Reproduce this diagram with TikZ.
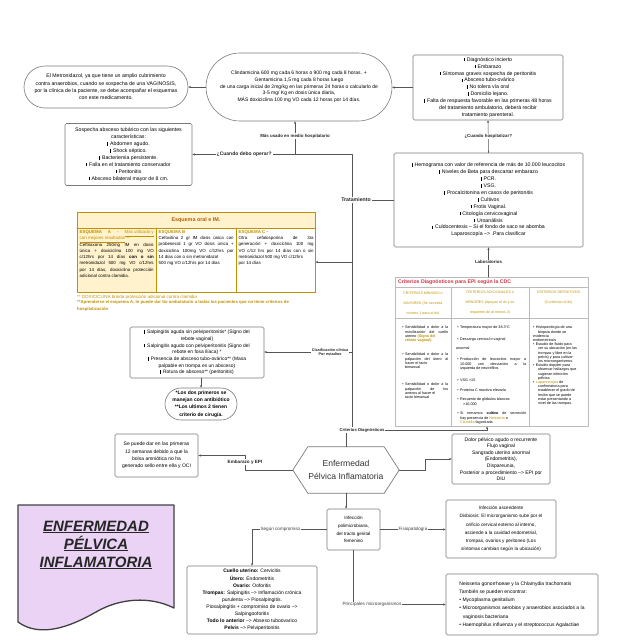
\documentclass[tikz,border=0pt]{standalone}
\usepackage{fontspec}
\setmainfont{Liberation Sans}
\usetikzlibrary{arrows.meta,positioning,shapes.misc,calc}
\definecolor{boxgray}{HTML}{7A7A7A}
\definecolor{linegray}{HTML}{555555}
\definecolor{gold}{HTML}{BF9000}
\definecolor{goldfill}{HTML}{FFF2CC}
\definecolor{cdcred}{HTML}{CC3344}
\definecolor{esqorange}{HTML}{B45F06}
\definecolor{lilac}{HTML}{EAD3F5}
\definecolor{tabgray}{HTML}{BBBBBB}
\newcommand{\barmark}{\rule[-0.2pt]{1.1pt}{3.6pt}\hspace{1.8pt}}
\newcommand{\gld}[1]{\textcolor{gold}{#1}}
\tikzset{
  every picture/.append style={line cap=round,line join=round},
  epi box/.style={draw=boxgray,line width=0.6pt,rounded corners=1.5pt,fill=white,align=center,inner sep=1pt,font=\fontsize{5.2}{6.9}\selectfont},
  epi pill/.style={draw=boxgray,line width=0.6pt,rounded rectangle,fill=white,align=center,inner sep=1pt},
  epi label/.style={font=\fontsize{4.4}{5.2}\selectfont\bfseries,fill=white,inner sep=0.8pt,align=center,text=black!85},
  epi soft/.style={font=\fontsize{4.6}{5.2}\selectfont,fill=white,inner sep=0.8pt,text=black!75},
  epi link/.style={draw=linegray,line width=0.55pt},
  epi arrow/.style={epi link,-{Stealth[length=2.6pt,width=2.2pt]}},
  esq cell/.style={inner sep=0pt,anchor=north west,align=justify,font=\fontsize{4.4}{6.3}\selectfont},
  crit cell/.style={inner sep=0pt,anchor=north west,align=justify,font=\fontsize{3.7}{4.2}\selectfont},
  crit head/.style={inner sep=0pt,anchor=north,align=center,text=gold,font=\fontsize{3.6}{10}\selectfont}
}
\begin{document}
\begin{tikzpicture}[x=1pt,y=-1pt]
\useasboundingbox (0,0) rectangle (640,640);

% fila superior
\node[epi pill,minimum width=166pt,minimum height=42pt,font=\fontsize{5.2}{7.4}\selectfont] (metro) at (106,87)
  {El Metronidazol, ya que tiene un amplio cubrimiento\\contra anaerobios, cuando se sospecha de una VAGINOSIS,\\por la clínica de la paciente, se debe acompañar el esquemas\\con este medicamento.};
\node[epi pill,minimum width=188pt,minimum height=68pt,font=\fontsize{5}{6.7}\selectfont] (clinda) at (299,87)
  {Clindamicina 600 mg cada 6 horas o 900 mg cada 8 horas. +\\Gentamicina 1,5 mg cada 8 horas luego\\de una carga inicial de 2mg/kg en las primeras 24 horas o calcularlo de\\3-5 mg/ Kg en dosis única diaria,\\MÁS doxiciclina 100 mg VO cada 12 horas por 14 días.};
\node[epi box,minimum width=150pt,minimum height=65pt] (hospit) at (488,87.5)
  {\barmark Diagnóstico incierto\\\barmark Embarazo\\\barmark Síntomas graves sospecha de peritonitis\\\barmark Absceso tubo-ovárico\\\barmark No tolera vía oral\\\barmark Domicilio lejano.\\\barmark Falta de respuesta favorable en las primeras 48 horas\\del tratamiento ambulatorio, deberá recibir\\tratamiento parenteral.};
\node[epi box,minimum width=127pt,minimum height=62pt] (absceso) at (128.5,154.5)
  {Sospecha absceso tubárico con las siguientes\\características:\\\barmark Abdomen agudo.\\\barmark Shock séptico.\\\barmark Bacteriemia persistente.\\\barmark Falla en el tratamiento conservador\\\barmark Peritonitis\\\barmark Absceso bilateral mayor de 8 cm.};
\node[epi box,minimum width=189pt,minimum height=94pt] (hemo) at (488.5,200)
  {\barmark Hemograma con valor de referencia de más de 10.000 leucocitos\\\barmark Niveles de Beta para descartar embarazo\\\barmark PCR.\\\barmark VSG.\\\barmark Procalcitonina en casos de peritonitis\\\barmark Cultivos\\\barmark Frotis Vaginal.\\\barmark Citología cervicovaginal\\\barmark Uroanálisis\\\barmark Culdocentesis -- Si el fondo de saco se abomba\\Laparoscopía --> .Para clasificar};

% tabla de esquemas
\fill[goldfill] (77,212) rectangle (315,228);
\fill[goldfill] (77,228) rectangle (156,292);
\node[draw=gold,line width=0.6pt,minimum width=238pt,minimum height=80pt,inner sep=0pt,anchor=north west] (esq) at (77,212) {};
\draw[gold,line width=0.6pt] (77,228) -- (315,228) (156,228) -- (156,292) (236,228) -- (236,292);
\node[font=\fontsize{5.4}{6}\selectfont\bfseries,text=esqorange] (esqTitle) at (196,220) {Esquema oral e IM.};
\node[esq cell,text width=74pt] (esqA) at (79.5,230)
  {\textbf{\gld{ESQUEMA A -}} \gld{\underline{Más utilizado y}}\linebreak \gld{\underline{con mejores resultados}} \textbf{\gld{**}}\newline Ceftriaxona 250mg IM en dosis\linebreak única + doxiciclina 100 mg VO\linebreak c/12hrs por 14 días \textbf{con o sin}\linebreak metronidazol 500 mg VO c/12hrs\linebreak por 14 días, doxiciclina protección\linebreak adicional contra clamidia.};
\node[esq cell,text width=75pt] (esqB) at (158.5,230)
  {\textbf{\gld{ESQUEMA B}}\newline Cefoxitina 2 gr IM dosis única con\linebreak probenecid 1 gr VO dosis única +\linebreak doxiciclina 100mg VO c/12hrs por\linebreak 14 días con o sin metronidazol\newline 500 mg VO c/12hrs por 14 días};
\node[esq cell,text width=75pt] (esqC) at (238.5,230)
  {\textbf{\gld{ESQUEMA C}} -\newline Otra cefalosporina de 3ra\linebreak generación + doxiciclina 100 mg\linebreak VO c/12 hrs por 14 días con o sin\linebreak metronidazol 500 mg VO c/12hrs\newline por 14 días};
\node[anchor=west,inner sep=0pt,text=gold,font=\fontsize{4.5}{5}\selectfont] (nota1) at (77,297)
  {** DOXICICLINA brinda protección adicional contra clamidia};
\node[anchor=north west,inner sep=0pt,text=gold,align=left,font=\fontsize{4.3}{6.6}\selectfont\bfseries] (nota2) at (77,300.5)
  {**Aprenderse el esquema A, le puede dar tto ambulatorio a todas las pacientes que no tiene criterios de\\hospitalización};

% tabla de criterios
\node[draw=tabgray,line width=0.5pt,minimum width=193pt,minimum height=149pt,inner sep=0pt,anchor=north west] (crit) at (395,277) {};
\draw[tabgray,line width=0.5pt] (395,287) -- (588,287) (395,318) -- (588,318) (451,287) -- (451,426) (529,287) -- (529,426);
\node[anchor=west,inner sep=0pt,text=cdcred,font=\fontsize{5.2}{6}\selectfont\bfseries] (critTitle) at (398,282) {Criterios Diagnósticos para EPI según la CDC};
\node[crit head] (headA) at (423,291) {CRITERIOS MÍNIMOS o\\MAYORES (Se necesita\\mínimo 1 para el dx)};
\node[crit head] (headB) at (490,291) {CRITERIOS ADICIONALES o\\MENORES (Apoyan al dx y se\\requieren de al menos 3)};
\node[crit head] (headC) at (558.5,291) {CRITERIOS DEFINITIVOS\\(Confirman el dx)};
\node[crit cell,text width=43pt] (mayA) at (405,326)
  {\llap{•\hspace{1.5pt}}Sensibilidad o dolor a la\linebreak movilización del cuello\linebreak uterino \textbf{\gld{(Signo del}}\newline\textbf{\gld{rebote vaginal)}}};
\node[crit cell,text width=43pt] (mayB) at (405,353)
  {\llap{•\hspace{1.5pt}}Sensibilidad o dolor a la\linebreak palpación del útero al\linebreak hacer el tacto\newline bimanual};
\node[crit cell,text width=43pt] (mayC) at (405,383)
  {\llap{•\hspace{1.5pt}}Sensibilidad o dolor a la\linebreak palpación de los\linebreak anexos al hacer el\newline tacto bimanual};
\node[crit cell,text width=66pt] (menA) at (460,326) {\llap{•\hspace{1.5pt}}Temperatura mayor de 38.3°C};
\node[crit cell,text width=66pt] (menB) at (460,338) {\llap{•\hspace{1.5pt}}Descarga cervical o vaginal};
\node[crit cell,text width=66pt] (menC) at (456,347) {anormal};
\node[crit cell,text width=66pt] (menD) at (460,358)
  {\llap{•\hspace{1.5pt}}Producción de leucocitos mayor a\linebreak 10.000 con desviación a la\linebreak izquierda de neutrófilos};
\node[crit cell,text width=66pt] (menE) at (460,379) {\llap{•\hspace{1.5pt}}VSG >15};
\node[crit cell,text width=66pt] (menF) at (460,389) {\llap{•\hspace{1.5pt}}Proteína C reactiva elevada};
\node[crit cell,text width=66pt] (menG) at (460,398) {\llap{•\hspace{1.5pt}}Recuento de glóbulos blancos\newline\hspace*{3pt}>10.000};
\node[crit cell,text width=66pt] (menH) at (460,412)
  {\llap{•\hspace{1.5pt}}Si tomamos \textbf{cultivo} de secreción\linebreak hay presencia de \gld{Neisseria} o\newline\gld{Clamidia} fagocitada};
\node[crit cell,align=left] (defin) at (533,326)
  {•\hspace{1.5pt}Histopatología de una\\\hspace*{5pt}biopsia donde se\\evidencia\\endometriosis\\•\hspace{1.5pt}Estudio de fluido para\\\hspace*{5pt}ver su ubicación (en las\\\hspace*{5pt}trompas y libre en la\\\hspace*{5pt}pelvis) y para cultivar\\\hspace*{5pt}los microorganismos.\\•\hspace{1.5pt}Estudio doppler para\\\hspace*{5pt}observar hallazgos que\\\hspace*{5pt}sugieran infección\\\hspace*{5pt}pélvica\\•\hspace{1.5pt}\gld{Laparoscopia} de\\\hspace*{5pt}confirmatoria para\\\hspace*{5pt}establecer el grado de\\\hspace*{5pt}lesión que se puede\\\hspace*{5pt}estar presentando a\\\hspace*{5pt}nivel de las trompas.};

% clasificacion
\node[epi box,minimum width=134pt,minimum height=51pt,font=\fontsize{4.9}{6.7}\selectfont] (salping) at (197,352.5)
  {\barmark Salpingitis aguda sin pelviperitonitis* (Signo del\\rebote vaginal)\\\barmark Salpingitis agudo con pelviperitonitis (Signo del\\rebote en fosa ilíaca) *\\\barmark Presencia de absceso tubo-ovárico** (Masa\\palpable en trompa es un absceso)\\\barmark Rotura de absceso** (peritonitis)};
\node[epi pill,minimum width=74pt,minimum height=32pt,font=\fontsize{5}{7.2}\selectfont\bfseries] (manejo) at (201,404)
  {*Los dos primeros se\\manejan con antibiótico\\**Los ultimos 2 tienen\\criterio de cirugía.};
\node[epi box,minimum width=83pt,minimum height=43pt,font=\fontsize{5}{7.3}\selectfont] (embarazo) at (156.5,455.5)
  {Se puede dar en las primeras\\12 semanas debido a que la\\bolsa amniótica no ha\\generado sello entre ella y OCI};

% centro
\node[minimum width=106pt,minimum height=46pt,inner sep=0pt,align=center,text=black!80,font=\fontsize{8.6}{12.3}\selectfont] (epi) at (346,470) {Enfermedad\\Pélvica Inflamatoria};
\draw[boxgray,line width=0.7pt] (epi.west) -- ([xshift=15pt]epi.north west) -- ([xshift=-15pt]epi.north east) -- (epi.east) -- ([xshift=-15pt]epi.south east) -- ([xshift=15pt]epi.south west) -- cycle;
\node[epi box,minimum width=98pt,minimum height=50pt,font=\fontsize{5}{6.6}\selectfont] (dolor) at (501,459)
  {Dolor pélvico agudo o recurrente\\Flujo vaginal\\Sangrado uterino anormal\\(Endometritis),\\Dispareunia,\\Posterior a procedimiento --> EPI por\\DIU};

% fila inferior
\node[epi box,minimum width=53pt,minimum height=41pt,font=\fontsize{4.6}{7.8}\selectfont] (poli) at (353.5,529.5)
  {Infección\\polimicrobiana,\\del tracto genital\\femenino};
\node[epi box,minimum width=110pt,minimum height=58pt,font=\fontsize{4.7}{8.2}\selectfont] (ascend) at (501,529)
  {Infección ascendente\\Disbiosis: El microrganismo sube por el\\orificio cervical externo al interno,\\asciende a la cavidad endometrial,\\trompas, ovarios y peritoneo (Los\\síntomas cambian según la ubicación)};
\node[epi box,minimum width=130pt,minimum height=68pt,font=\fontsize{5}{7.1}\selectfont] (cuello) at (252,600)
  {\textbf{Cuello uterino:} Cervicitis\\\textbf{Útero:} Endometritis\\\textbf{Ovario:} Ooforitis\\\textbf{Trompas:} Salpingitis --> Inflamación crónica\\purulenta --> Piosalpingitis.\\Piosalpingitis + compromiso de ovario -->\\Salpingooforitis\\\textbf{Todo lo anterior} --> Abseso tuboovarico\\\textbf{Pelvis} --> Pelviperitonitis};
\node[epi box,minimum width=152pt,minimum height=61pt,align=left,font=\fontsize{5}{8.2}\selectfont] (micro) at (522,604.5)
  {Neisseria gonorrhoeae y la Chlamydia trachomatis\\También se pueden encontrar:\\• Mycoplasma genitalium\\• Microorganismos aerobios y anaerobios asociados a la\\\hspace*{3.5pt}vaginosis bacteriana\\• Haemophilus influenza y el streptococcus Agalactiae};

% titulo
\draw[black!75,line width=1.3pt,fill=lilac] (18,505) -- (174,505) -- (174,608) .. controls (150,596) and (120,598) .. (96,612) .. controls (70,627) and (40,638) .. (18,622) -- cycle;
\node[align=center,text=black!85,font=\fontsize{15}{18}\selectfont\bfseries\itshape] (titulo) at (96,545)
  {\underline{ENFERMEDAD}\\\underline{PÉLVICA}\\\underline{INFLAMATORIA}};

% conectores
\coordinate (top) at (352,154.5);
\coordinate (jMas) at (295,154.5);
\coordinate (jTrat) at (352,200);
\coordinate (jEsq) at (352,262);
\coordinate (jClas) at (352,352);
\coordinate (jCrit) at (352,430);
\coordinate (jCritR) at (487,430);
\coordinate (jEmb) at (245,455.5);
\coordinate (jDol) at (425,459);

\draw[epi arrow] (hospit.west) -- (hospit.west -| clinda.east);
\draw[epi arrow] (clinda.west) -- (metro.east);
\draw[epi arrow] (hemo.north) -- node[epi label,pos=0.5]{¿Cuando hospitalizar?} (hospit.south);
\draw[epi arrow] (crit.north -| hemo.south) -- node[epi label]{Laboratorios} (hemo.south);
\draw[epi link] (jCrit) -- (top);
\draw[epi arrow] (top) -- node[epi label,pos=0.675,font=\fontsize{5}{6}\selectfont\bfseries]{¿Cuando debo operar?} (top -| absceso.east);
\draw[epi arrow] (jMas) -- node[epi label,pos=0.55]{Más usado en medio hospitalario} (jMas |- clinda.south);
\draw[epi link] (jTrat) -- (jTrat -| hemo.west);
\draw[epi arrow] (jEsq) -- (jEsq -| esq.east);
\draw[epi arrow] (jClas) -- node[epi label,pos=0.25,font=\fontsize{3.8}{4.6}\selectfont\bfseries]{Clasificación clínica\\Por estadios} (jClas -| salping.east);
\draw[epi arrow] (epi.north) |- (jCritR) -- (jCritR |- crit.south);
\draw[epi arrow] (salping.south -| manejo.north) -- (manejo.north);
\draw[epi arrow] (epi.west) -| (jEmb) -- (embarazo.east);
\draw[epi arrow] (epi.east) -| (jDol) -- (dolor.west);
\draw[epi arrow] (epi.south) -- (epi.south |- poli.north);
\draw[epi arrow] (poli.west) -| node[epi soft,pos=0.31]{Según compromiso} (cuello.north);
\draw[epi arrow] (poli.east) -- node[epi soft]{Fisiopatología} (poli.east -| ascend.west);
\draw[epi arrow] (poli.south) |- node[epi soft,pos=0.6]{Principales microorganismos} (micro.west);
\node[epi label,font=\fontsize{5.2}{6}\selectfont\bfseries] (tratLabel) at (356,200) {Tratamiento};
\node[epi label,font=\fontsize{4.2}{5}\selectfont\bfseries] (critLabel) at (362,430) {Criterios Diagnósticos};
\node[epi label,font=\fontsize{4.6}{5}\selectfont\bfseries] (embLabel) at (245,462) {Embarazo y EPI};
\end{tikzpicture}
\end{document}
